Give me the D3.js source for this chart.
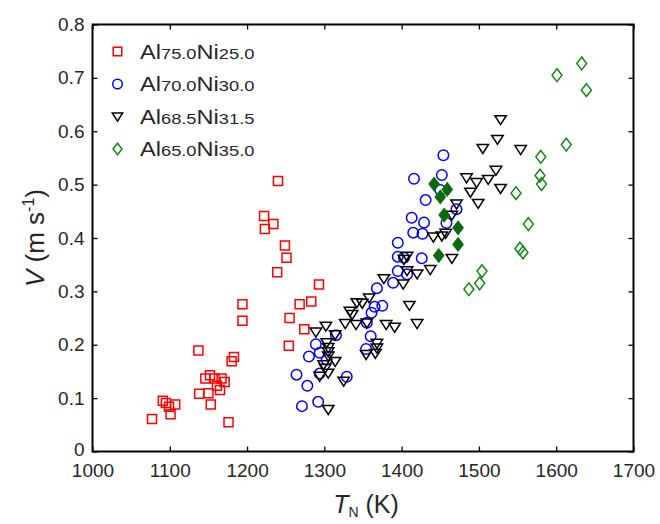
<!DOCTYPE html>
<html><head><meta charset="utf-8">
<script src="https://cdn.jsdelivr.net/npm/d3@7"></script>
<style>
body{margin:0;background:#fff;}
svg{display:block;}
text{font-family:"Liberation Sans",Arial,Helvetica,sans-serif;}
</style>
</head><body>
<svg id="chart" width="660" height="524"></svg>
<script>
// ---- data ----
const xTicks = [1000, 1100, 1200, 1300, 1400, 1500, 1600, 1700];
const yTicks = [0, 0.1, 0.2, 0.3, 0.4, 0.5, 0.6, 0.7, 0.8];
const yTickLabels = ["0", "0.1", "0.2", "0.3", "0.4", "0.5", "0.6", "0.7", "0.8"];

// Al75.0Ni25.0 (red squares)
const T_Ni25 = [1077,1091,1095,1099,1107,1101,1138,1137,1146,1150,1152,1153,1158,1161,1165,1167,1171,1176,1180,1183,1194,1194,1222,1223,1234,1240,1239,1249,1251,1254,1255,1268,1274,1283,1293];
const V_Ni25 = [0.061,0.095,0.091,0.084,0.088,0.070,0.108,0.189,0.137,0.109,0.143,0.088,0.137,0.123,0.115,0.137,0.130,0.055,0.169,0.177,0.245,0.276,0.441,0.417,0.426,0.507,0.336,0.386,0.363,0.198,0.250,0.276,0.229,0.281,0.313];

// Al70.0Ni30.0 (blue circles)
const T_Ni30 = [1454,1452,1416,1450,1431,1471,1413,1429,1458,1415,1427,1395,1395,1403,1426,1395,1407,1389,1368,1365,1375,1361,1355,1360,1354,1315,1289,1294,1280,1303,1294,1264,1329,1278,1271,1292];
const V_Ni30 = [0.555,0.518,0.511,0.490,0.471,0.454,0.438,0.429,0.428,0.410,0.408,0.391,0.365,0.363,0.362,0.338,0.332,0.316,0.306,0.271,0.273,0.260,0.241,0.216,0.192,0.218,0.201,0.185,0.178,0.172,0.146,0.144,0.140,0.123,0.085,0.093];

// Al68.5Ni31.5 (black down-triangles)
const T_Ni315 = [1528,1524,1505,1554,1522,1484,1497,1512,1528,1489,1499,1471,1465,1441,1452,1457,1465,1407,1403,1407,1420,1437,1402,1377,1410,1380,1391,1420,1358,1349,1342,1333,1336,1327,1341,1355,1289,1302,1314,1303,1305,1305,1305,1314,1299,1301,1294,1305,1325,1305,1368,1368,1366,1354];
const V_Ni315 = [0.621,0.584,0.567,0.565,0.526,0.512,0.503,0.509,0.492,0.485,0.464,0.463,0.442,0.401,0.403,0.408,0.361,0.365,0.359,0.338,0.332,0.340,0.313,0.323,0.273,0.237,0.232,0.239,0.287,0.277,0.278,0.262,0.256,0.239,0.237,0.240,0.223,0.234,0.218,0.203,0.194,0.186,0.178,0.168,0.162,0.155,0.140,0.146,0.131,0.078,0.202,0.193,0.183,0.181];

// Al65.0Ni35.0 (green diamonds, open)
const T_Ni35 = [1633,1601,1639,1613,1580,1579,1581,1548,1564,1553,1557,1504,1501,1487];
const V_Ni35 = [0.727,0.705,0.677,0.575,0.552,0.517,0.501,0.484,0.426,0.380,0.373,0.338,0.315,0.304];
// Al65.0Ni35.0 (green diamonds, filled)
const T_Ni35f = [1442,1459,1450,1455,1473,1473,1448];
const V_Ni35f = [0.501,0.491,0.477,0.443,0.419,0.388,0.367];

const legendLabels = [
  ["Al","75.0","Ni","25.0"],
  ["Al","70.0","Ni","30.0"],
  ["Al","68.5","Ni","31.5"],
  ["Al","65.0","Ni","35.0"]
];

// ---- layout ----
const svg = d3.select("#chart");
const L = 92.5, R = 633.5, T = 24.5, B = 451.5;
const x = d3.scaleLinear().domain([1000, 1700]).range([L, R]);
const y = d3.scaleLinear().domain([0, 0.8]).range([B, T]);
const textCol = "#262626";

// marker shapes
const shapes = {
  square: s => `M${-s/2},${-s/2}h${s}v${s}h${-s}Z`,
  circle: s => `M${s/2},0A${s/2},${s/2},0,1,1,${-s/2},0A${s/2},${s/2},0,1,1,${s/2},0Z`,
  tri: s => `M${-s*0.52},${-s*0.4}L${s*0.52},${-s*0.4}L0,${s*0.42}Z`,
  diamond: s => `M0,${-s*0.58}L${s*0.45},0L0,${s*0.58}L${-s*0.45},0Z`
};

const series = [
  {T: T_Ni25, V: V_Ni25, shape: "square", size: 9, stroke: "#ff0000", fill: "none"},
  {T: T_Ni30, V: V_Ni30, shape: "circle", size: 10.5, stroke: "#0000ff", fill: "none"},
  {T: T_Ni315, V: V_Ni315, shape: "tri", size: 11, stroke: "#000000", fill: "none"},
  {T: T_Ni35, V: V_Ni35, shape: "diamond", size: 11, stroke: "#118811", fill: "none"},
  {T: T_Ni35f, V: V_Ni35f, shape: "diamond", size: 11, stroke: "#0b6b0b", fill: "#0b6b0b"}
];

// axes
const gx = svg.append("g").attr("transform", `translate(0,${B})`)
  .call(d3.axisBottom(x).tickValues(xTicks).tickFormat(d3.format("d")).tickSizeInner(-5).tickSizeOuter(0).tickPadding(12));
const gy = svg.append("g").attr("transform", `translate(${L},0)`)
  .call(d3.axisLeft(y).tickValues(yTicks).tickFormat((d,i) => yTickLabels[i]).tickSizeInner(-5).tickSizeOuter(0).tickPadding(8));
const gx2 = svg.append("g").attr("transform", `translate(0,${T})`)
  .call(d3.axisTop(x).tickValues(xTicks).tickFormat("").tickSizeInner(-5).tickSizeOuter(0));
const gy2 = svg.append("g").attr("transform", `translate(${R},0)`)
  .call(d3.axisRight(y).tickValues(yTicks).tickFormat("").tickSizeInner(-5).tickSizeOuter(0));
[gx, gy, gx2, gy2].forEach(g => {
  g.select(".domain").remove();
  g.selectAll(".tick line").attr("stroke", "#000").attr("stroke-width", 1.3);
  g.selectAll(".tick text").attr("fill", textCol).attr("font-size", 19)
    .attr("font-family", '"Liberation Sans",Arial,sans-serif');
});
gy.selectAll(".tick text").filter(d => d === 0).attr("dy", "0.2em");

// frame
svg.append("rect").attr("x", L).attr("y", T).attr("width", R - L).attr("height", B - T)
  .attr("fill", "none").attr("stroke", "#000").attr("stroke-width", 2);

// points
series.forEach(s => {
  svg.append("g").selectAll("path").data(s.T.map((t, i) => [t, s.V[i]])).join("path")
    .attr("transform", d => `translate(${x(d[0])},${y(d[1])})`)
    .attr("d", shapes[s.shape](s.size))
    .attr("fill", s.fill).attr("stroke", s.stroke).attr("stroke-width", 1.5);
});

// legend
const legY = [58.5, 91, 124, 156];
legendLabels.forEach((lab, i) => {
  const s = series[i];
  svg.append("path").attr("transform", `translate(117.5,${legY[i] - 7})`)
    .attr("d", shapes[s.shape](s.shape === "square" ? 8.5 : (s.shape === "circle" ? 9.5 : 10)))
    .attr("fill", "none").attr("stroke", s.stroke).attr("stroke-width", 1.5);
  const t = svg.append("text").attr("transform", `translate(140,${legY[i]}) scale(1.18,1)`)
    .attr("fill", textCol);
  lab.forEach((part, j) => {
    t.append("tspan").attr("font-size", j % 2 === 0 ? 20 : 15.5).text(part);
  });
});

// axis labels
const yl = svg.append("text").attr("transform", "translate(44,238) rotate(-90)")
  .attr("text-anchor", "middle").attr("fill", textCol).attr("font-size", 26);
yl.append("tspan").attr("font-style", "italic").text("V");
yl.append("tspan").text(" (m s");
yl.append("tspan").attr("font-size", 16).attr("dy", -10).text("-1");
yl.append("tspan").attr("dy", 10).text(")");

const xl = svg.append("text").attr("transform", "translate(366,513)")
  .attr("text-anchor", "middle").attr("fill", textCol).attr("font-size", 25);
xl.append("tspan").attr("font-style", "italic").text("T");
xl.append("tspan").attr("font-size", 14).attr("dy", 4).text("N");
xl.append("tspan").attr("dy", -4).text(" (K)");
</script>
</body></html>
